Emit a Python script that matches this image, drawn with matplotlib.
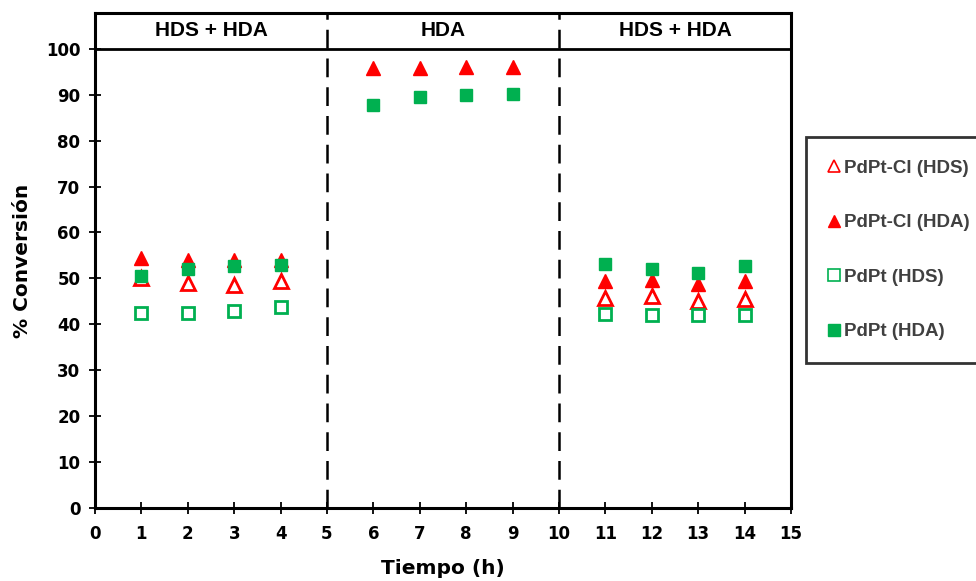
import matplotlib
matplotlib.use("Agg")
import matplotlib.pyplot as plt
from matplotlib.lines import Line2D

# Data
t_all = [1, 2, 3, 4, 6, 7, 8, 9, 11, 12, 13, 14]
t_hds = [1, 2, 3, 4, 11, 12, 13, 14]

pdptcl_hds = [50.0, 49.0, 48.5, 49.4, 45.8, 46.1, 45.0, 45.5]
pdptcl_hda = [54.5, 54.0, 54.0, 54.0, 95.8, 95.8, 96.1, 96.1, 49.5, 49.6, 48.8, 49.4]
pdpt_hds = [42.4, 42.4, 42.9, 43.7, 42.2, 42.0, 42.0, 42.0]
pdpt_hda = [50.6, 52.0, 52.6, 53.0, 87.8, 89.6, 89.9, 90.2, 53.2, 52.0, 51.2, 52.8]

regions = ["HDS + HDA", "HDA", "HDS + HDA"]
region_centers = [2.5, 7.5, 12.5]
region_breaks = [5, 10]

red = "#ff0000"
green = "#00b050"

fig = plt.figure(figsize=(9.76, 5.81), dpi=100)
ax = fig.add_axes([95/976, 73/581, (791-95)/976, (508-13)/581])

ms = 9
ax.plot(t_hds, pdptcl_hds, linestyle="none", marker="^", ms=ms+1, mfc="white", mec=red, mew=2, zorder=3)
ax.plot(t_all, pdptcl_hda, linestyle="none", marker="^", ms=ms+1, mfc=red, mec=red, mew=1, zorder=3)
ax.plot(t_hds, pdpt_hds, linestyle="none", marker="s", ms=ms, mfc="white", mec=green, mew=2, zorder=3)
ax.plot(t_all, pdpt_hda, linestyle="none", marker="s", ms=ms, mfc=green, mec=green, mew=1, zorder=4)

ax.set_xlim(0, 15)
ax.set_ylim(0, 107.8)
ax.set_xticks(range(0, 16))
ax.set_yticks(range(0, 101, 10))

for s in ax.spines.values():
    s.set_linewidth(2.2)
    s.set_color("black")

ax.tick_params(direction="inout", length=9, width=1.3, colors="black")
ax.tick_params(axis="x", pad=8)
ax.tick_params(axis="y", pad=6)
for lab in ax.get_xticklabels() + ax.get_yticklabels():
    lab.set_fontfamily("DejaVu Sans")
    lab.set_fontweight("bold")
    lab.set_fontsize(12)

ax.axhline(100, color="black", lw=2.0, zorder=2)
for b in region_breaks:
    ax.axvline(b, color="black", lw=1.8, linestyle=(0, (7.5, 4)), zorder=2)

for c, r in zip(region_centers, regions):
    ax.text(c, 104, r, ha="center", va="center", fontsize=15, fontweight="bold",
            fontfamily="Liberation Sans", color="black")

ax.set_xlabel("Tiempo (h)", fontsize=14.5, fontweight="bold", fontfamily="DejaVu Sans", labelpad=11)
ax.set_ylabel("% Conversión", fontsize=14.5, fontweight="bold", fontfamily="DejaVu Sans", labelpad=10)

handles = [
    Line2D([], [], linestyle="none", marker="^", ms=8, mfc="white", mec=red, mew=1.2),
    Line2D([], [], linestyle="none", marker="^", ms=8, mfc=red, mec=red),
    Line2D([], [], linestyle="none", marker="s", ms=8, mfc="white", mec=green, mew=1.2),
    Line2D([], [], linestyle="none", marker="s", ms=8, mfc=green, mec=green),
]
labels = ["PdPt-Cl (HDS)", "PdPt-Cl (HDA)", "PdPt (HDS)", "PdPt (HDA)"]
leg = fig.legend(handles, labels, loc="upper left", bbox_to_anchor=(806/976, 1 - 137/581),
                 frameon=True, fancybox=False, handlelength=0.6, handletextpad=0.2,
                 labelspacing=2.0, borderpad=1.2, borderaxespad=0,
                 prop={"family": "Liberation Sans", "weight": "bold", "size": 13.5})
leg.get_frame().set_edgecolor("black")
leg.get_frame().set_linewidth(2)
for txt in leg.get_texts():
    txt.set_color("#404040")

fig.savefig("out.png", dpi=100)
